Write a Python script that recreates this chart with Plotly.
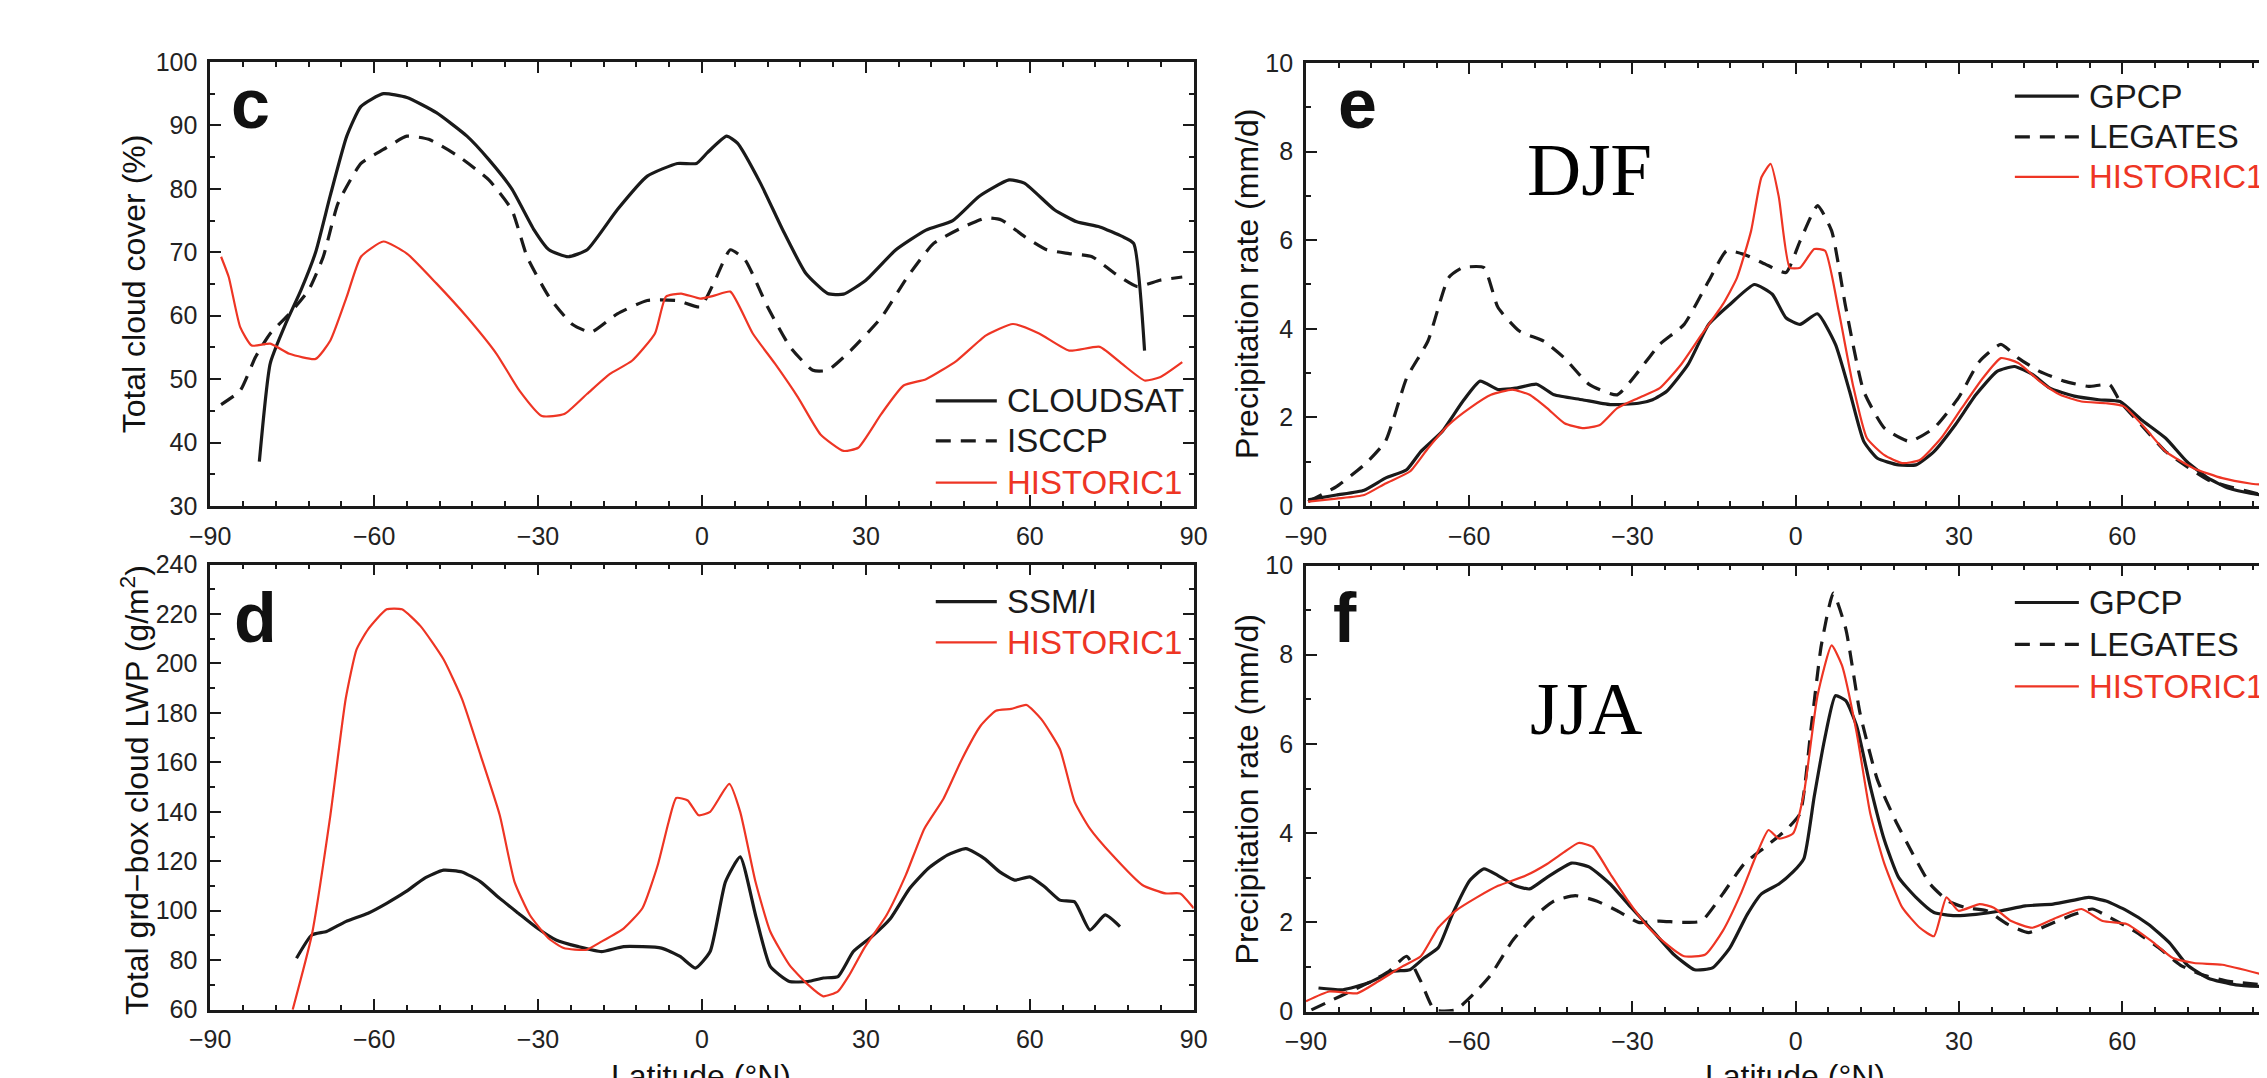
import plotly.graph_objects as go

W, H = 2267, 1078
RED = "#ee3524"
BLACK = "#1a1a1a"
FONT = "Liberation Sans, Arial, sans-serif"

# ---------------- Panel c : total cloud cover (%) ----------------
c_cloudsat_lat = [-81, -79, -76.2, -73.4, -70.7, -68, -65, -62.4, -58.3, -54, -48.6, -43, -39, -34.8,
                  -30.7, -28, -24.5, -21, -15.5, -10, -4.5, -1, 1, 4.5, 6.5, 10.7, 14.8, 19, 23, 25.9,
                  30, 35.5, 41, 45.9, 50.7, 56.2, 59, 64.5, 68.6, 72.8, 76.9, 79, 81]
c_cloudsat = [37, 52.5, 58.7, 64, 70, 79, 88.3, 93, 95, 94.4, 92, 88.3, 84.6, 80,
              73.5, 70.4, 69.3, 70.4, 76.7, 82, 84, 84, 85.7, 88.3, 87.2, 80.9, 73.5, 66.7, 63.5, 63.4,
              65.6, 70.4, 73.5, 75, 78.8, 81.4, 80.9, 76.7, 74.8, 74, 72.5, 71.4, 54.5]

c_isccp_lat = [-88, -84.5, -81.7, -79, -75.5, -72, -69.3, -66.6, -62.4, -58.3, -54, -50, -44.5, -39,
               -34.8, -32, -28, -23.8, -20.3, -15.5, -10, -4.5, -0.3, 2.4, 5.2, 7.9, 12, 16.2, 20.3, 23,
               27.2, 32.8, 37.6, 42.4, 47.9, 52, 54.8, 59, 63.1, 67.2, 71.4, 75.5, 79.7, 83.8, 87.9]
c_isccp = [46, 48.2, 53.5, 57.2, 60.3, 64, 69.3, 77.7, 84, 86.2, 88.3, 87.8, 85.1, 81.4,
           76.7, 69.3, 63, 58.7, 57.4, 60.3, 62.4, 62.4, 61.4, 65.6, 70.4, 68.8, 61.4, 55, 51.4, 51.4,
           54.5, 59.7, 66.1, 71.4, 74, 75.4, 75.1, 72.5, 70.4, 69.8, 69.3, 66.7, 64.6, 65.6, 66.1]

c_hist_lat = [-88, -86.6, -84.5, -82.4, -79, -75.5, -70.7, -68, -65, -62.4, -58.3, -54, -48.6, -43,
              -37.6, -33.4, -29.3, -25.2, -21, -16.9, -12.8, -8.6, -6.6, -3.8, -0.3, 2.4, 5.2, 9.3,
              13.4, 17.6, 21.7, 25.9, 28.6, 32.8, 36.9, 41, 46.6, 52, 56.9, 61.7, 67.2, 72.8, 76.9,
              81, 83.8, 87.9]
c_hist = [69.3, 66.1, 58.2, 55.3, 55.6, 54, 53.2, 56.1, 63, 69.3, 71.7, 69.8, 65.1, 59.8,
          54, 48.2, 44.2, 44.5, 47.7, 50.8, 52.9, 57.2, 63, 63.5, 62.7, 63.2, 63.8, 57.2,
          52.4, 47.1, 41.3, 38.7, 39.2, 44.5, 49, 50, 52.9, 56.9, 58.7, 57.2, 54.5, 55.1, 52.4,
          49.8, 50.3, 52.7]

# ---------------- Panel d : LWP (g/m2) ----------------
d_ssmi_lat = [-74.2, -71.4, -68.7, -65.2, -61.1, -57.7, -54.2, -50.8, -47.3, -43.9, -40.5, -37, -33.6,
              -30.1, -26.7, -22.6, -18.4, -14.3, -7.4, -4, -1.2, 1.5, 4.3, 7, 9.8, 12.5, 16, 19.4,
              22.2, 24.9, 27.7, 31.1, 34.5, 38, 41.4, 44.9, 48.3, 51.7, 54.5, 57.2, 60, 62.7, 65.5,
              68.2, 71, 73.8, 76.5]
d_ssmi = [80.8, 90.2, 91.6, 95.6, 99, 103, 107.7, 113.1, 116.4, 115.7, 111.7, 105, 99,
          92.9, 88.2, 85.5, 83.5, 85.5, 84.9, 81.5, 76.8, 83.5, 111.7, 121.8, 98.3, 77.5, 71.4, 71.4,
          72.8, 73.4, 83.5, 89.6, 96.9, 109, 117.1, 122.5, 125.1, 121.1, 115.7, 112.4, 113.7, 109.7, 104.3,
          103.6, 92.2, 98.3, 93.6]

d_hist_lat = [-74.9, -71.4, -68, -65.2, -63.2, -61.1, -57.7, -54.9, -51.5, -47.3, -43.9, -40.5, -37,
              -34.3, -31.5, -28.1, -25.3, -21.2, -18.4, -14.3, -10.9, -8.1, -6.1, -4.7, -2.6, -0.6,
              1.5, 5, 7, 9.8, 12.5, 16, 19.4, 22.2, 24.9, 27, 29.7, 33.8, 37.3, 40.7, 44.2, 47.6,
              51, 53.8, 56.6, 59.4, 62.1, 65.5, 68.2, 71, 75.1, 80.6, 84.8, 87.5, 90]
d_hist = [60, 90.2, 138.6, 185.6, 205.7, 213.8, 221.9, 221.9, 215.1, 201.7, 185.6, 162.8, 138.6,
          111.7, 98.3, 88.9, 84.9, 84.2, 87.5, 92.9, 101, 118.4, 135.9, 145.6, 144.6, 138.6,
          140, 151.3, 140, 111.7, 91.6, 78.1, 70.1, 65.4, 67.4, 74.1, 84.9, 98.3, 114.4, 133.2, 145.3, 161.4,
          174.8, 180.9, 181.6, 183.2, 177.5, 165.4, 144, 133.2, 122.5, 110.4, 107, 107, 101]

# ---------------- Panel e : precipitation DJF (mm/d) ----------------
e_gpcp_lat = [-89.6, -84.4, -79.3, -75.4, -71.5, -68.9, -65, -61.2, -58, -54.7, -51.5, -47.6, -44.4,
              -39.2, -34.1, -28.9, -26.3, -23.7, -19.8, -16, -12.1, -7.6, -4.3, -1.8, 0.8, 4, 7.3,
              9.9, 12.5, 15, 18.9, 22.1, 25.4, 29.3, 33.1, 37, 40.2, 43.5, 46.7, 51.2, 55.7, 59.6,
              63.5, 68, 71.9, 75.8, 79.6, 83.5, 85.8]
e_gpcp = [0.14, 0.25, 0.36, 0.63, 0.82, 1.23, 1.68, 2.36, 2.82, 2.63, 2.66, 2.75, 2.51,
          2.4, 2.29, 2.32, 2.4, 2.59, 3.19, 4.1, 4.55, 5.0, 4.78, 4.25, 4.1, 4.34, 3.65,
          2.59, 1.46, 1.08, 0.93, 0.93, 1.23, 1.83, 2.51, 3.04, 3.15, 2.97, 2.66, 2.48, 2.4, 2.36,
          1.95, 1.53, 1.0, 0.63, 0.4, 0.29, 0.25]

e_leg_lat = [-89.6, -84.4, -79.3, -75.4, -71.5, -67.6, -63.8, -61.2, -57.3, -54.7, -50.8, -46.3, -42.5,
             -37.9, -32.8, -28.9, -25, -20.5, -16, -12.7, -9.5, -5.6, -1.8, 0.8, 4, 6.6, 9.2, 12.5,
             16.3, 20.9, 25.4, 29.9, 33.8, 37.7, 40.9, 44.8, 49.3, 53.8, 57.7, 59.6, 63.5, 68, 71.9,
             75.8, 79.6, 83.5, 85.8]
e_leg = [0.1, 0.44, 0.93, 1.46, 2.89, 3.72, 5.15, 5.38, 5.38, 4.48, 3.95, 3.72, 3.34,
         2.74, 2.51, 3.04, 3.65, 4.1, 5.08, 5.76, 5.68, 5.46, 5.27, 5.98, 6.78, 6.21, 4.48, 2.59,
         1.76, 1.46, 1.76, 2.44, 3.27, 3.65, 3.34, 3.04, 2.82, 2.7, 2.74, 2.36, 1.83, 1.23, 0.89,
         0.59, 0.44, 0.32, 0.25]

e_hist_lat = [-89.6, -84.4, -79.3, -75.4, -70.9, -67.6, -63.8, -59.9, -56, -52.1, -48.9, -45.7, -42.5,
              -39.2, -36, -32.8, -28.9, -25, -21.1, -17.3, -13.4, -10.8, -8.2, -6.3, -4.6, -3.1, -1.1,
              0.8, 3.4, 5.4, 7.9, 10.5, 13.1, 16.3, 19.6, 22.8, 26.7, 30.5, 34.4, 37.7, 40.9, 44.8,
              48.6, 52.5, 57, 60.3, 64.2, 68, 73.2, 78.4, 83.5, 85.8]
e_hist = [0.1, 0.17, 0.25, 0.51, 0.78, 1.3, 1.83, 2.21, 2.51, 2.63, 2.51, 2.21, 1.87,
          1.76, 1.83, 2.21, 2.44, 2.66, 3.19, 3.87, 4.55, 5.15, 6.21, 7.42, 7.72, 6.97, 5.38,
          5.38, 5.8, 5.76, 4.4, 2.74, 1.53, 1.15, 0.97, 1.04, 1.53, 2.21, 2.89, 3.34, 3.23, 2.82,
          2.51, 2.36, 2.32, 2.25, 1.76, 1.23, 0.85, 0.63, 0.51, 0.48]

# ---------------- Panel f : precipitation JJA (mm/d) ----------------
f_gpcp_lat = [-87.7, -83.2, -78.6, -74.1, -70.9, -68.3, -65.7, -63.1, -59.9, -57.3, -54.7, -51.5, -48.9,
              -45.7, -41.2, -37.9, -34.1, -30.2, -26.3, -22.4, -18.6, -15.3, -12.1, -8.9, -6.3, -3.1,
              -0.5, 1.5, 3.4, 5.3, 7.3, 9.2, 11.2, 13.7, 16.3, 18.9, 22.1, 25.4, 29.3, 33.1, 37.7,
              42.2, 47.3, 51.2, 53.8, 57, 60.9, 64.8, 68.7, 71.9, 75.8, 80.9, 85.8]
f_gpcp = [0.53, 0.49, 0.64, 0.9, 0.94, 1.2, 1.43, 2.18, 2.94, 3.2, 3.05, 2.82, 2.75,
          3.01, 3.33, 3.24, 2.86, 2.33, 1.81, 1.28, 0.94, 0.98, 1.43, 2.18, 2.64, 2.86,
          3.13, 3.43, 4.82, 6.1, 7.08, 6.97, 6.4, 5.05, 3.84, 3.01, 2.56, 2.22, 2.15, 2.18, 2.26,
          2.37, 2.41, 2.5, 2.56, 2.48, 2.26, 1.96, 1.54, 1.05, 0.75, 0.6, 0.56]

f_leg_lat = [-89, -85.7, -81.9, -78, -74.8, -71.5, -68.9, -66.4, -62.5, -59.3, -56, -52.1, -48.3,
             -44.4, -40.5, -36.6, -32.8, -28.9, -25, -21.1, -17.3, -13.4, -9.5, -5.6, -1.8, 0.8,
             2.8, 4.7, 6.9, 9.2, 11.8, 15, 18.3, 21.5, 24.7, 28, 31.2, 35.1, 38.9, 42.8, 46.7,
             51.2, 54.5, 57.7, 62.2, 66.7, 70.6, 74.5, 79.6, 85.8]
f_leg = [0.04, 0.23, 0.45, 0.68, 0.9, 1.24, 0.68, 0.04, 0.04, 0.38, 0.83, 1.58, 2.11,
         2.48, 2.6, 2.48, 2.26, 2.0, 2.03, 2.0, 2.03, 2.64, 3.31, 3.69, 4.07, 4.44,
         6.33, 8.21, 9.38, 8.58, 6.7, 5.2, 4.29, 3.54, 2.86, 2.48, 2.33, 2.26, 1.96, 1.77, 1.96,
         2.18, 2.3, 2.11, 1.81, 1.43, 1.05, 0.83, 0.68, 0.6]

f_hist_lat = [-90, -85.7, -80.6, -76.7, -72.2, -68.9, -65.7, -62.5, -58.6, -54.7, -49.6, -45.7, -42.5,
              -39.9, -37.3, -34.1, -30.8, -27.6, -24.4, -20.5, -16.6, -13.4, -10.1, -6.9, -5, -3.1,
              -0.5, 1.5, 4, 6.6, 8.5, 11.2, 13.7, 16.3, 19.6, 22.8, 25.4, 27.7, 29.9, 33.8, 36.4,
              39.6, 43.5, 48, 52.5, 56.4, 60.9, 65.4, 69.3, 73.2, 78.4, 85.8]
f_hist = [0.23, 0.45, 0.41, 0.68, 1.02, 1.24, 1.88, 2.26, 2.56, 2.82, 3.05, 3.31, 3.58,
          3.78, 3.69, 3.09, 2.48, 1.96, 1.58, 1.24, 1.28, 1.81, 2.64, 3.61, 4.07, 3.88,
          3.99, 4.89, 7.08, 8.21, 7.76, 6.25, 4.44, 3.31, 2.33, 1.88, 1.69, 2.56, 2.26, 2.41, 2.33,
          2.03, 1.88, 2.11, 2.3, 2.03, 1.96, 1.58, 1.2, 1.09, 1.05, 0.83]

x_ticks_full = [-90, -60, -30, 0, 30, 60, 90]


def px(x):
    return x / W


def py(y):
    return 1 - y / H


fig = go.Figure()

LW_BLACK = 3.2
LW_RED = 2.2
DASH = "15px,10px"


def add(xv, yv, axis, color, width, dash="solid"):
    fig.add_trace(go.Scatter(x=xv, y=yv, mode="lines", xaxis="x" + axis, yaxis="y" + axis,
                             line=dict(color=color, width=width, dash=dash,
                                       shape="spline", smoothing=0.5),
                             showlegend=False, hoverinfo="skip"))


# panel c -> axis 1
add(c_cloudsat_lat, c_cloudsat, "", BLACK, LW_BLACK)
add(c_isccp_lat, c_isccp, "", BLACK, LW_BLACK, DASH)
add(c_hist_lat, c_hist, "", RED, LW_RED)
# panel d -> 2
add(d_ssmi_lat, d_ssmi, "2", BLACK, LW_BLACK)
add(d_hist_lat, d_hist, "2", RED, LW_RED)
# panel e -> 3
add(e_gpcp_lat, e_gpcp, "3", BLACK, LW_BLACK)
add(e_leg_lat, e_leg, "3", BLACK, LW_BLACK, DASH)
add(e_hist_lat, e_hist, "3", RED, LW_RED)
# panel f -> 4
add(f_gpcp_lat, f_gpcp, "4", BLACK, LW_BLACK)
add(f_leg_lat, f_leg, "4", BLACK, LW_BLACK, DASH)
add(f_hist_lat, f_hist, "4", RED, LW_RED)

common = dict(showline=True, linecolor=BLACK, linewidth=2.6, ticks="inside", ticklen=11, tickwidth=2,
              tickcolor=BLACK, showgrid=False, zeroline=False,
              tickfont=dict(family=FONT, size=25, color="#222"))


def xax(domain, rng, anchor):
    return dict(common, domain=domain, range=rng, anchor=anchor, mirror="ticks",
                tickmode="array", tickvals=x_ticks_full, ticklabelstandoff=6,
                minor=dict(ticks="inside", ticklen=5, tickwidth=2, tickcolor=BLACK, dtick=6, tick0=-90))


def yax(domain, rng, dtick, minor_dtick, anchor, mirror):
    return dict(common, domain=domain, range=rng, anchor=anchor, mirror=mirror, dtick=dtick,
                tick0=rng[0], ticklabelstandoff=5,
                minor=dict(ticks="inside", ticklen=5, tickwidth=2, tickcolor=BLACK,
                           dtick=minor_dtick, tick0=rng[0]))


left_dom = [px(184), px(1183)]
right_dom = [px(1297), 1.0]
right_max = -90 + (W - 1297) / 5.527

fig.update_layout(
    width=W, height=H, margin=dict(l=0, r=0, t=0, b=0),
    paper_bgcolor="white", plot_bgcolor="white",
    xaxis=xax(left_dom, [-90, 90], "y"),
    yaxis=yax([py(497), py(41)], [30, 100], 10, 5, "x", "ticks"),
    xaxis2=xax(left_dom, [-90, 90], "y2"),
    yaxis2=yax([py(1014), py(557)], [60, 240], 20, 10, "x2", "ticks"),
    xaxis3=xax(right_dom, [-90, right_max], "y3"),
    yaxis3=yax([py(497), py(42)], [0, 10], 2, 1, "x3", False),
    xaxis4=xax(right_dom, [-90, right_max], "y4"),
    yaxis4=yax([py(1016), py(558)], [0, 10], 2, 1, "x4", False),
)

ann = []
shapes = []


def text(x, y, s, size, color="#111", family=FONT, xanchor="center", yanchor="middle",
         angle=0, weight="normal"):
    ann.append(dict(x=px(x), y=py(y), xref="paper", yref="paper", text=s, showarrow=False,
                    xanchor=xanchor, yanchor=yanchor, textangle=angle,
                    font=dict(family=family, size=size, color=color, weight=weight)))


# panel letters
text(225, 84, "c", 70, weight="bold")
text(230, 612, "d", 70, weight="bold")
text(1349, 84, "e", 70, weight="bold")
text(1337, 612, "f", 70, weight="bold")

# season labels
text(1585, 151, "DJF", 75, color="#000", family="Liberation Serif, Times New Roman, serif")
text(1582, 705, "JJA", 75, color="#000", family="Liberation Serif, Times New Roman, serif")

# y-axis titles
text(107, 269, "Total cloud cover (%)", 32, angle=-90)
text(107, 788, "Total grd\u2212box cloud LWP (g/m<sup>2</sup>)", 32, angle=-90)
text(1237, 269, "Precipitation rate (mm/d)", 32, angle=-90)
text(1237, 788, "Precipitation rate (mm/d)", 32, angle=-90)

# x-axis titles (mostly cut off at the bottom edge, as in the original)
text(683, 1062, "Latitude (\u00b0N)", 32, yanchor="top")
text(1794, 1062, "Latitude (\u00b0N)", 32, yanchor="top")


def legend_entry(x0, x1, y, label, color, dash, width):
    shapes.append(dict(type="line", xref="paper", yref="paper", x0=px(x0), x1=px(x1), y0=py(y), y1=py(y),
                       line=dict(color=color, width=width, dash=dash)))
    text(x1 + 8, y, label, 33, color=color, xanchor="left")


# legend c
legend_entry(921, 983, 389, "CLOUDSAT", BLACK, "solid", LW_BLACK)
legend_entry(921, 983, 430, "ISCCP", BLACK, DASH, LW_BLACK)
legend_entry(921, 983, 473, "HISTORIC1", RED, "solid", LW_RED)
# legend d
legend_entry(921, 983, 595, "SSM/I", BLACK, "solid", LW_BLACK)
legend_entry(921, 983, 637, "HISTORIC1", RED, "solid", LW_RED)
# legend e
legend_entry(2017, 2082, 76, "GPCP", BLACK, "solid", LW_BLACK)
legend_entry(2017, 2082, 118, "LEGATES", BLACK, DASH, LW_BLACK)
legend_entry(2017, 2082, 159, "HISTORIC1", RED, "solid", LW_RED)
# legend f
legend_entry(2017, 2082, 596, "GPCP", BLACK, "solid", LW_BLACK)
legend_entry(2017, 2082, 639, "LEGATES", BLACK, DASH, LW_BLACK)
legend_entry(2017, 2082, 682, "HISTORIC1", RED, "solid", LW_RED)

fig.update_layout(annotations=ann, shapes=shapes)
fig.write_html("out.html")
